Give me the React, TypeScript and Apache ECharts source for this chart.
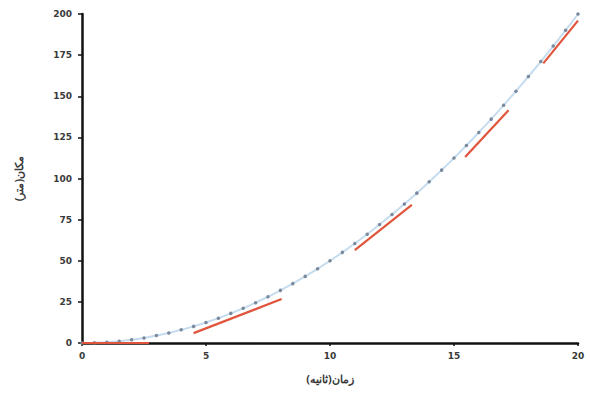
import React, { useEffect, useRef } from "react";
import * as echarts from "echarts";

const times = [0, 0.5, 1, 1.5, 2, 2.5, 3, 3.5, 4, 4.5, 5, 5.5, 6, 6.5, 7, 7.5, 8, 8.5, 9, 9.5, 10, 10.5, 11, 11.5, 12, 12.5, 13, 13.5, 14, 14.5, 15, 15.5, 16, 16.5, 17, 17.5, 18, 18.5, 19, 19.5, 20];
const positions = [0, 0.1, 0.5, 1.1, 2, 3.1, 4.5, 6.1, 8, 10.1, 12.5, 15.1, 18, 21.1, 24.5, 28.1, 32, 36.1, 40.5, 45.1, 50, 55.1, 60.5, 66.1, 72, 78.1, 84.5, 91.1, 98, 105.1, 112.5, 120.1, 128, 136.1, 144.5, 153.1, 162, 171.1, 180.5, 190.1, 200];

const tangentSegments: { x: number[]; y: number[] }[] = [
  { x: [0, 2.7], y: [0, 0] },
  { x: [4.5, 8.05], y: [6, 26.7] },
  { x: [11.0, 13.3], y: [56.5, 84] },
  { x: [15.45, 17.2], y: [113, 141.5] },
  { x: [18.6, 20], y: [170, 196] },
];

const xTicks = [0, 5, 10, 15, 20];
const yTicks = [0, 25, 50, 75, 100, 125, 150, 175, 200];

const xTitle = "زمان(ثانیه)";
const yTitle = "مکان(متر)";

export default function App() {
  const ref = useRef<HTMLDivElement>(null);
  useEffect(() => {
    if (!ref.current) return;
    const chart = echarts.init(ref.current, null, { renderer: "svg" });
    const labelStyle = { color: "#3a3a3a", fontSize: 9, fontWeight: "bold" as const, fontFamily: "DejaVu Sans" };
    const series: any[] = [
      {
        type: "line",
        data: times.map((t, i) => [t, positions[i]]),
        lineStyle: { color: "#c5dcef", width: 2, type: "solid" },
        symbol: "circle",
        symbolSize: 3.5,
        itemStyle: { color: "#7a8a9c" },
        showSymbol: true,
        z: 2,
      },
    ];
    tangentSegments.forEach((s) => {
      series.push({
        type: "line",
        data: s.x.map((x, i) => [x, s.y[i]]),
        lineStyle: { color: "#e0553c", width: 2.2 },
        symbol: "none",
        z: 3,
      });
    });
    chart.setOption({
      animation: false,
      backgroundColor: "#ffffff",
      grid: { left: 82, right: 12, top: 14, bottom: 60 },
      xAxis: {
        type: "value",
        min: xTicks[0],
        max: xTicks[xTicks.length - 1],
        interval: 5,
        name: xTitle,
        nameLocation: "middle",
        nameGap: 30,
        nameTextStyle: { color: "#3a3a3a", fontSize: 11, fontWeight: "bold", fontFamily: "Noto Sans" },
        axisLine: { lineStyle: { color: "#111", width: 2.5 } },
        axisTick: { show: true, length: 3, lineStyle: { color: "#111", width: 1.5 } },
        axisLabel: { ...labelStyle, margin: 8 },
        splitLine: { show: false },
      },
      yAxis: {
        type: "value",
        min: yTicks[0],
        max: yTicks[yTicks.length - 1],
        interval: 25,
        name: yTitle,
        nameLocation: "middle",
        nameGap: 58,
        nameRotate: 90,
        nameTextStyle: { color: "#3a3a3a", fontSize: 11, fontWeight: "bold", fontFamily: "Noto Sans" },
        axisLine: { show: true, lineStyle: { color: "#111", width: 2.5 } },
        axisTick: { show: true, length: 4, lineStyle: { color: "#111", width: 1.5 } },
        axisLabel: { ...labelStyle, margin: 10 },
        splitLine: { show: false },
      },
      series,
    });
    return () => chart.dispose();
  }, []);
  return <div ref={ref} style={{ width: 590, height: 403, position: "absolute", left: 0, top: 0 }} />;
}
